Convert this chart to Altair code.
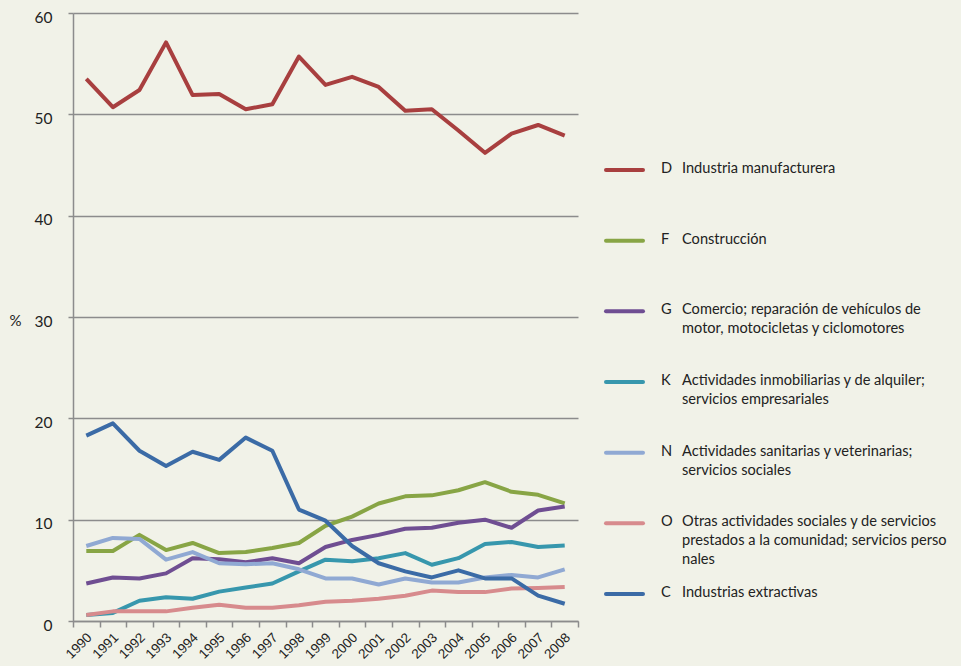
import altair as alt
import pandas as pd

years = [str(y) for y in range(1990, 2009)]

D = [53.5, 50.7, 52.4, 57.1, 51.9, 52.0, 50.5, 51.0, 55.7, 52.9, 53.7, 52.7, 50.35, 50.5, 48.4, 46.2, 48.1, 48.95, 47.9]
F = [6.9, 6.9, 8.5, 7.0, 7.7, 6.7, 6.8, 7.2, 7.7, 9.4, 10.3, 11.6, 12.3, 12.4, 12.9, 13.7, 12.75, 12.45, 11.6]
G = [3.7, 4.3, 4.2, 4.7, 6.2, 6.1, 5.8, 6.2, 5.7, 7.3, 8.0, 8.5, 9.1, 9.2, 9.7, 10.0, 9.2, 10.9, 11.3]
K = [0.6, 0.8, 2.0, 2.35, 2.2, 2.9, 3.3, 3.7, 4.9, 6.05, 5.9, 6.2, 6.7, 5.55, 6.2, 7.6, 7.8, 7.3, 7.45]
N = [7.4, 8.2, 8.1, 6.05, 6.8, 5.7, 5.6, 5.7, 5.1, 4.2, 4.2, 3.6, 4.2, 3.8, 3.8, 4.3, 4.55, 4.3, 5.1]
O = [0.6, 0.95, 0.95, 0.95, 1.3, 1.6, 1.3, 1.3, 1.55, 1.9, 2.0, 2.2, 2.5, 3.0, 2.85, 2.85, 3.2, 3.25, 3.35]
C = [18.3, 19.5, 16.8, 15.3, 16.7, 15.9, 18.1, 16.8, 11.0, 9.9, 7.4, 5.7, 4.9, 4.3, 5.0, 4.2, 4.2, 2.5, 1.7]

codes = ["D", "F", "G", "K", "N", "O", "C"]
labels = [
    "Industria manufacturera",
    "Construcción",
    "Comercio; reparación de vehículos de\nmotor, motocicletas y ciclomotores",
    "Actividades inmobiliarias y de alquiler;\nservicios empresariales",
    "Actividades sanitarias y veterinarias;\nservicios sociales",
    "Otras actividades sociales y de servicios\nprestados a la comunidad; servicios perso\nnales",
    "Industrias extractivas",
]
colors = ["#A83F3F", "#88A545", "#6F4E92", "#3797AD", "#90A9D3", "#D78B8D", "#3B6BA6"]

BG = "#F1F2E8"
GRAY = "#8C8C8C"

series = {"D": D, "F": F, "G": G, "K": K, "N": N, "O": O, "C": C}
rows = []
for code, vals in series.items():
    for y, v in zip(years, vals):
        rows.append({"year": y, "value": v, "code": code})
df = pd.DataFrame(rows)

leg = pd.DataFrame({"code": codes, "label": labels, "pos": list(range(len(codes)))})

color_scale = alt.Scale(domain=codes, range=colors)

lines = alt.Chart(df).mark_line(strokeWidth=4, strokeJoin="round").encode(
    x=alt.X("year:O", bandPosition=0.5,
            scale=alt.Scale(type="band", paddingInner=0, paddingOuter=0),
            axis=alt.Axis(title=None, labelAngle=315, labelAlign="right", labelBaseline="middle",
                          labelFont="Liberation Sans", labelFontSize=13.5, labelColor="#222222",
                          tickBand="extent", tickSize=6, tickColor=GRAY, tickWidth=1.5,
                          domainColor=GRAY, domainWidth=1.5, labelPadding=8, labelOffset=3,
                          grid=False)),
    y=alt.Y("value:Q", scale=alt.Scale(domain=[0, 60], nice=False),
            axis=alt.Axis(values=[0, 10, 20, 30, 40, 50, 60], title="%", titleAngle=0,
                          titleAlign="left", titleBaseline="middle", titleX=-64, titleY=307,
                          titleFont="Lato", titleFontSize=15, titleFontWeight="normal", titleColor="#222222",
                          labelFont="Lato", labelFontSize=15.5, labelColor="#222222", labelPadding=16,
                          labelOffset=4,
                          tickSize=5, tickColor=GRAY, tickWidth=1.5,
                          domainColor=GRAY, domainWidth=1.5,
                          grid=True, gridColor=GRAY, gridWidth=1.5)),
    color=alt.Color("code:N", scale=color_scale, legend=None),
    detail="code:N",
)

ypos = alt.Y("pos:Q", scale=alt.Scale(domain=[0, 6], range=[157, 581]), axis=None)

swatch = alt.Chart(leg).mark_rule(strokeWidth=4, strokeCap="round").encode(
    x=alt.value(533), x2=alt.value(570), y=ypos,
    color=alt.Color("code:N", scale=color_scale, legend=None),
)
letter = alt.Chart(leg).mark_text(align="left", baseline="top", dy=-9, font="Lato",
                                   fontSize=14.6, color="#222222").encode(
    x=alt.value(588), y=ypos, text="code:N")
label = alt.Chart(leg).mark_text(align="left", baseline="top", dy=-9, font="Lato",
                                  fontSize=14.6, color="#222222", lineHeight=19, lineBreak="\n").encode(
    x=alt.value(609), y=ypos, text="label:N")

chart = alt.layer(lines, swatch, letter, label).resolve_scale(y="independent").properties(
    width=505, height=608,
    autosize=alt.AutoSizeParams(type="none"),
    padding={"left": 65, "top": 5, "right": 372, "bottom": 42},
    background=BG,
).configure_view(stroke=None)


class _BgTemplate:
    def __init__(self, base):
        self.base = base

    def render(self, **kw):
        html = self.base.render(**kw)
        style = "<style>html,body{background:%s;}</style>" % BG
        if "<head>" in html:
            return html.replace("<head>", "<head>" + style, 1)
        return style + html


try:
    from altair.utils.html import HTML_TEMPLATE
    chart.save("out.html", embed_options={"renderer": "svg", "actions": False},
               template=_BgTemplate(HTML_TEMPLATE))
except Exception:
    chart.save("out.html", embed_options={"renderer": "svg", "actions": False})
